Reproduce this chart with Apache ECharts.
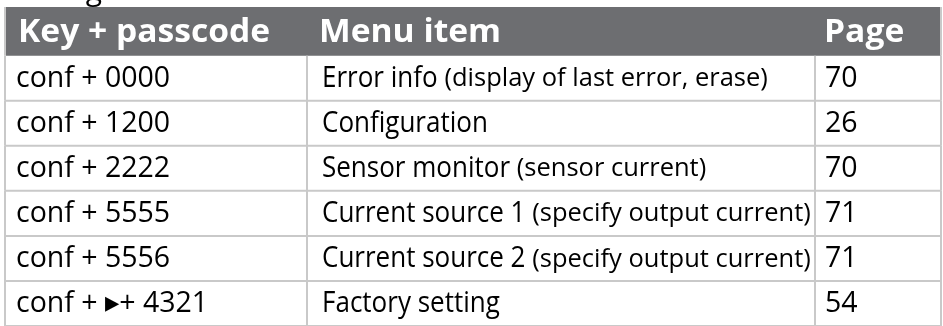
<!DOCTYPE html>
<html><head><meta charset="utf-8">
<script src="https://cdn.jsdelivr.net/npm/echarts@6/dist/echarts.min.js"></script>
<style>html,body{margin:0;padding:0;background:#fff}#c{width:943px;height:326px}</style>
</head><body><div id="c"></div>
<script>
// ---- data ----
const titleText = 'Settings';
const headers = ['Key + passcode', 'Menu item', 'Page'];
const keys = ['conf + 0000', 'conf + 1200', 'conf + 2222', 'conf + 5555', 'conf + 5556', 'conf + \u25B8+ 4321'];
const menuItems = ['Error info', 'Configuration', 'Sensor monitor', 'Current source 1', 'Current source 2', 'Factory setting'];
const menuNotes = ['(display of last error, erase)', '', '(sensor current)', '(specify output current)', '(specify output current)', ''];
const pages = ['70', '26', '70', '71', '71', '54'];

// ---- layout / style ----
const colEdges = [5, 307, 815, 941];
const headerGray = '#6d6e71';
const lineColor = '#c9c9c9';
const FF = '"Open Sans", "DejaVu Sans", sans-serif';
const st = {
  head: {size: 32, weight: 'bold', sx: 1.05, color: '#fff'},
  key: {size: 30, weight: 'normal', sx: 0.95, color: '#000'},
  menu: {size: 30, weight: 'normal', sx: 0.867, color: '#000'},
  note: {size: 25, weight: 'normal', sx: 1.02, color: '#000'},
  page: {size: 30, weight: 'normal', sx: 0.95, color: '#000'}
};
const fontOf = s => `${s.weight} ${s.size}px ${FF}`;
const mctx = document.createElement('canvas').getContext('2d');
function textW(t, s) { mctx.font = fontOf(s); return mctx.measureText(t).width * s.sx; }

function txt(x, y, t, s) {
  return {
    type: 'text', x: x, y: y, scaleX: s.sx, scaleY: 1,
    style: {text: t, x: 0, y: 0, font: fontOf(s), fill: s.color,
      textAlign: 'left', textVerticalAlign: 'middle', align: 'left', verticalAlign: 'middle'}
  };
}

const rows = keys.map((k, i) => [i]);

function renderHeader(params, api) {
  const y0 = api.coord([0, -1.08])[1];
  const y1 = api.coord([0, 0])[1];
  const xs = colEdges.map(v => api.coord([v, 0])[0]);
  const ym = (y0 + y1) / 2 + 2;
  const ch = [];
  ch.push({type: 'rect', shape: {x: xs[0] + 1, y: y0, width: xs[3] - xs[0] - 1, height: y1 - y0}, style: {fill: headerGray}});
  ch.push({type: 'line', shape: {x1: xs[0], y1: y0, x2: xs[0], y2: y1}, style: {stroke: lineColor, lineWidth: 2}});
  ch.push({type: 'line', shape: {x1: xs[3], y1: y0, x2: xs[3], y2: y1}, style: {stroke: lineColor, lineWidth: 2}});
  ch.push(txt(xs[0] + 13, ym, headers[0], st.head));
  ch.push(txt(xs[1] + 12, ym, headers[1], st.head));
  ch.push(txt(xs[2] + 9, ym, headers[2], st.head));
  return {type: 'group', children: ch};
}

function renderRow(params, api) {
  const i = api.value(0);
  const y0 = api.coord([0, i])[1];
  const y1 = api.coord([0, i + 1])[1];
  const xs = colEdges.map(v => api.coord([v, 0])[0]);
  const ym = (y0 + y1) / 2;
  const ch = [];
  ch.push({type: 'line', shape: {x1: xs[0], y1: y1, x2: xs[3], y2: y1}, style: {stroke: lineColor, lineWidth: 2}});
  xs.forEach(x => ch.push({type: 'line', shape: {x1: x, y1: y0, x2: x, y2: y1}, style: {stroke: lineColor, lineWidth: 2}}));
  ch.push(txt(xs[0] + 11, ym, keys[i], st.key));
  const mx = xs[1] + 15;
  ch.push(txt(mx, ym, menuItems[i], st.menu));
  if (menuNotes[i]) {
    const w = textW(menuItems[i] + ' ', st.menu);
    ch.push(txt(mx + w, ym + 1, menuNotes[i], st.note));
  }
  ch.push(txt(xs[2] + 10, ym, pages[i], st.page));
  return {type: 'group', children: ch};
}

const chart = echarts.init(document.getElementById('c'), null, {renderer: 'canvas'});
chart.setOption({
  animation: false,
  backgroundColor: '#fff',
  grid: {left: 0, right: 0, top: 7, height: 321.4, containLabel: false},
  xAxis: {type: 'value', min: 0, max: 943, show: false},
  yAxis: {type: 'value', min: -1.08, max: 6, inverse: true, show: false},
  graphic: [{type: 'text', left: 5, top: -24, style: {text: titleText, font: `normal 30px ${FF}`, fill: '#000'}}],
  series: [
    {type: 'custom', renderItem: renderHeader, data: [[0]], clip: false},
    {type: 'custom', renderItem: renderRow, data: rows, clip: false}
  ]
});
</script></body></html>
